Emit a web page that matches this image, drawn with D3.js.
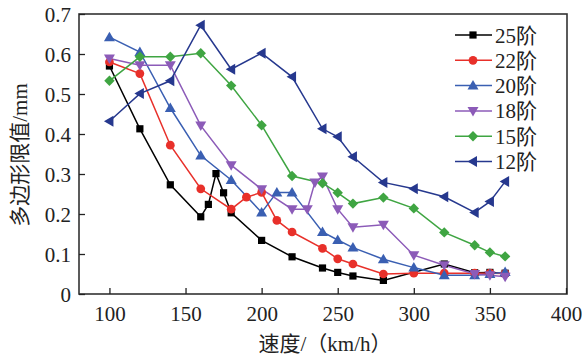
<!DOCTYPE html>
<html><head><meta charset="utf-8">
<script src="https://cdn.jsdelivr.net/npm/d3@7"></script>
<style>body{margin:0;background:#fff}</style>
</head><body><svg id="c" width="582" height="360"></svg>
<script>
const xTicks = [100,150,200,250,300,350,400];
const yTicks = [0,0.1,0.2,0.3,0.4,0.5,0.6,0.7];
const yTickLabels = ["0","0.1","0.2","0.3","0.4","0.5","0.6","0.7"];
const seriesNames = ["25阶","22阶","20阶","18阶","15阶","12阶"];
const s25x = [100,120,140,160,165,170,175,180,200,220,240,250,260,280,320,340,350,360];
const s25y = [0.57,0.413,0.273,0.193,0.224,0.301,0.253,0.203,0.134,0.093,0.065,0.054,0.045,0.034,0.075,0.053,0.054,0.052];
const s22x = [100,120,140,160,180,190,200,210,220,240,250,260,280,300,320,340,350,360];
const s22y = [0.58,0.551,0.372,0.263,0.212,0.242,0.254,0.184,0.155,0.114,0.088,0.075,0.05,0.052,0.052,0.052,0.052,0.051];
const s20x = [100,120,140,160,180,200,210,220,240,250,260,280,300,320,340,350,360];
const s20y = [0.642,0.605,0.465,0.346,0.285,0.204,0.254,0.254,0.155,0.135,0.116,0.087,0.066,0.047,0.047,0.05,0.055];
const s18x = [100,120,140,160,180,200,220,230,235,240,250,260,280,300,320,340,350,360];
const s18y = [0.589,0.572,0.572,0.421,0.322,0.262,0.212,0.212,0.279,0.294,0.212,0.167,0.173,0.097,0.072,0.05,0.047,0.043];
const s15x = [100,120,140,160,180,200,220,240,250,260,280,300,320,340,350,360];
const s15y = [0.533,0.593,0.593,0.602,0.521,0.422,0.295,0.277,0.253,0.226,0.241,0.214,0.154,0.122,0.104,0.094];
const s12x = [100,120,140,160,180,200,220,240,250,260,280,300,320,340,350,360];
const s12y = [0.432,0.501,0.533,0.672,0.562,0.602,0.543,0.413,0.393,0.343,0.279,0.263,0.243,0.204,0.231,0.281];

const xs=[s25x,s22x,s20x,s18x,s15x,s12x], ys=[s25y,s22y,s20y,s18y,s15y,s12y];
const colors=["#000000","#e8302a","#3a5fb2","#8c5bb8","#3fa542","#26388e"];
const shapes=["square","circle","tri","tridown","diamond","trileft"];

const svg=d3.select("#c");
const L=79,R=567,T=14,B=294;
const x=d3.scaleLinear().domain([80,400]).range([L,R-1]);
const y=d3.scaleLinear().domain([0,0.7]).range([B,T]);
const serif="'Liberation Serif','Times New Roman',serif";
const cjk="'Liberation Serif','Noto Sans CJK SC',serif";

// frame
svg.append("rect").attr("x",L).attr("y",T).attr("width",R-L).attr("height",B-T)
  .attr("fill","none").attr("stroke","#333").attr("stroke-width",1.6);

const xa=svg.append("g").attr("transform",`translate(0,${B})`)
  .call(d3.axisBottom(x).tickValues(xTicks).tickSizeInner(-6).tickSizeOuter(0).tickPadding(12));
const ya=svg.append("g").attr("transform",`translate(${L},0)`)
  .call(d3.axisLeft(y).tickValues(yTicks).tickFormat((d,i)=>yTickLabels[i]).tickSizeInner(-6).tickSizeOuter(0).tickPadding(8));
[xa,ya].forEach(a=>{a.select(".domain").remove();
  a.selectAll("line").attr("stroke","#222").attr("stroke-width",1.3);
  a.selectAll("text").attr("font-family",serif).attr("font-size",21).attr("fill","#222");});
ya.selectAll("text").attr("dy","0.34em");

function sym(shape,cx,cy){
  const g=svg.append("path").attr("transform",`translate(${cx},${cy})`);
  let d;
  if(shape==="square") d="M-3.6,-3.6H3.6V3.6H-3.6Z";
  else if(shape==="circle") d=d3.symbol(d3.symbolCircle,60)();
  else if(shape==="tri") d="M0,-5.5L5.5,4L-5.5,4Z";
  else if(shape==="tridown") d="M0,5.5L5.5,-4L-5.5,-4Z";
  else if(shape==="diamond") d="M0,-5.2L5.2,0L0,5.2L-5.2,0Z";
  else d="M-5.5,0L4,-5.5L4,5.5Z";
  return g.attr("d",d);
}

const line=d3.line();
for(let k=0;k<6;k++){
  const pts=xs[k].map((v,i)=>[x(v),y(ys[k][i])]);
  svg.append("path").attr("d",line(pts)).attr("fill","none").attr("stroke",colors[k]).attr("stroke-width",1.5);
}
for(let k=0;k<6;k++){
  xs[k].forEach((v,i)=>sym(shapes[k],x(v),y(ys[k][i])).attr("fill",colors[k]));
}

// legend
seriesNames.forEach((n,i)=>{
  const ly=35+i*25.3;
  svg.append("line").attr("x1",455).attr("x2",492).attr("y1",ly).attr("y2",ly).attr("stroke",colors[i]).attr("stroke-width",1.5);
  sym(shapes[i],473,ly).attr("fill",colors[i]);
  svg.append("text").attr("x",495).attr("y",ly).attr("dy","0.36em").attr("font-family",cjk).attr("font-size",21).attr("fill","#222").text(n);
});

svg.append("text").attr("x",325).attr("y",351).attr("text-anchor","middle").attr("font-family",cjk).attr("font-size",21).attr("fill","#222").text("速度/（km/h）");
svg.append("text").attr("transform","translate(27,155) rotate(-90)").attr("text-anchor","middle").attr("font-family",cjk).attr("font-size",21).attr("fill","#222").text("多边形限值/mm");
</script></body></html>
